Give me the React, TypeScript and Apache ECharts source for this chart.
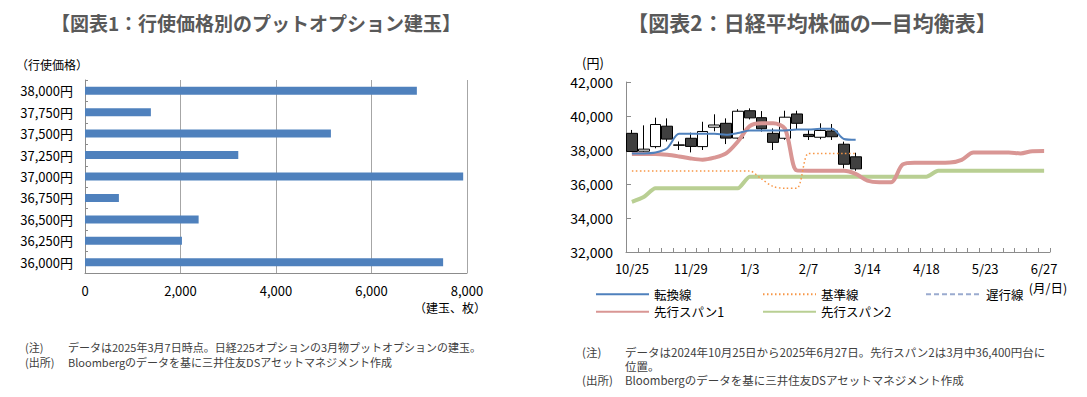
import React, { useEffect, useRef } from "react";
import * as echarts from "echarts";

// ---------- Chart 1 data ----------
const strikes = ["38,000円", "37,750円", "37,500円", "37,250円", "37,000円", "36,750円", "36,500円", "36,250円", "36,000円"];
const openInterest = [6950, 1380, 5150, 3210, 7920, 710, 2380, 2030, 7500];

// ---------- Chart 2 data ----------
const weeks = [
  "10/25", "11/1", "11/8", "11/15", "11/22", "11/29", "12/6", "12/13", "12/20", "12/27",
  "1/3", "1/10", "1/17", "1/24", "1/31", "2/7", "2/14", "2/21", "2/28", "3/7",
  "3/14", "3/21", "3/28", "4/4", "4/11", "4/18", "4/25", "5/2", "5/9", "5/16",
  "5/23", "5/30", "6/6", "6/13", "6/20", "6/27",
];
// [open, close, low, high]
const candles = [
  [38980, 37910, 37880, 39180],
  [37930, 38050, 37900, 39450],
  [38200, 39500, 38100, 39900],
  [39400, 38640, 38500, 39860],
  [38300, 38280, 38000, 38500],
  [38690, 38210, 37860, 39020],
  [38200, 39090, 38000, 39660],
  [39340, 39470, 39100, 40100],
  [39570, 38700, 38350, 39860],
  [38700, 40280, 38650, 40400],
  [40310, 39890, 39800, 40450],
  [39900, 39250, 39080, 40290],
  [38980, 38450, 38000, 39270],
  [38690, 39930, 38600, 40310],
  [40120, 39570, 39180, 40310],
  [38920, 38790, 38590, 39210],
  [38750, 39150, 38630, 39570],
  [39120, 38780, 38590, 39530],
  [38340, 37160, 36920, 38490],
  [37600, 36890, 36780, 37840],
];
const tenkan = [37800, 37800, 37850, 38100, 38950, 38950, 38950, 38950, 38900, 39000,
  39150, 39150, 39150, 39150, 39200, 39200, 39250, 39250, 38650, 38600];
const kijun = [36760, 36760, 36760, 36760, 36760, 36760, 36760, 36760, 36760, 36760,
  36760, 36300, 35850, 35750, 35750, 37800, 37800, 37800, 37800, 37800];
const chikou: number[] = [];
const senkou1 = [37770, 37770, 37770, 37720, 37620, 37500, 37430, 37550, 37800, 38500,
  39400, 39570, 39570, 39250, 36800, 36780, 36780, 36780, 36780, 36600,
  36200, 36100, 36100, 37150, 37250, 37250, 37250, 37260, 37420, 37850,
  37850, 37860, 37860, 37800, 37930, 37940];
const senkou2 = [34950, 35230, 35750, 35750, 35750, 35750, 35750, 35750, 35750, 35750,
  36430, 36430, 36430, 36430, 36430, 36430, 36430, 36430, 36430, 36430,
  36430, 36430, 36430, 36430, 36430, 36430, 36780, 36780, 36780, 36780,
  36780, 36780, 36780, 36780, 36780, 36780];

const FONT = "'Noto Sans CJK JP', 'Noto Sans', sans-serif";
const fmt = (v: number) => v.toLocaleString("en-US");

function txt(text: string, x: number, y: number, opts: any = {}) {
  const fs = opts.fontSize ?? 11;
  return {
    type: "text",
    x,
    y,
    silent: true,
    style: {
      text,
      fontSize: fs,
      lineHeight: fs + 1,
      fontFamily: FONT,
      fontWeight: opts.fontWeight ?? "normal",
      fill: opts.fill ?? "#404040",
      textAlign: opts.align ?? "left",
      textVerticalAlign: "middle",
    },
  };
}

const legendBase = {
  orient: "vertical",
  top: 288,
  padding: 0,
  itemWidth: 53,
  itemHeight: 12,
  itemGap: 5,
  selectedMode: false,
  itemStyle: { opacity: 0 },
  textStyle: { fontSize: 12.5, lineHeight: 12, color: "#000", fontFamily: FONT },
};

export default function App() {
  const ref = useRef<HTMLDivElement>(null);

  useEffect(() => {
    if (!ref.current) return;
    const chart = echarts.init(ref.current, undefined, { renderer: "svg" });
    const axisGray = "#8c8c8c";
    const option: any = {
      animation: false,
      backgroundColor: "#ffffff",
      textStyle: { fontFamily: FONT },
      grid: [
        { left: 85, top: 80, width: 382, height: 193 },
        { left: 626, top: 82, width: 424, height: 170 },
      ],
      xAxis: [
        {
          type: "value",
          gridIndex: 0,
          min: 0,
          max: 8000,
          interval: 2000,
          axisLine: { show: true, lineStyle: { color: axisGray } },
          axisTick: { show: false },
          splitLine: { show: true, lineStyle: { color: "#a6a6a6" } },
          axisLabel: { formatter: (v: number) => fmt(v), fontSize: 13, color: "#000", margin: 11, fontFamily: FONT },
        },
        {
          type: "category",
          gridIndex: 1,
          data: weeks,
          boundaryGap: true,
          axisLine: { show: true, lineStyle: { color: axisGray } },
          axisTick: { show: true, inside: true, length: 4, interval: 0, lineStyle: { color: axisGray } },
          axisLabel: { interval: 4, fontSize: 13, color: "#000", margin: 10, fontFamily: FONT },
          splitLine: { show: false },
        },
      ],
      yAxis: [
        {
          type: "category",
          gridIndex: 0,
          data: strikes,
          inverse: true,
          axisLine: { show: true, lineStyle: { color: axisGray } },
          axisTick: { show: true, inside: true, length: 3, lineStyle: { color: axisGray } },
          axisLabel: { fontSize: 13, color: "#000", margin: 12, fontFamily: FONT },
        },
        {
          type: "value",
          gridIndex: 1,
          min: 32000,
          max: 42000,
          interval: 2000,
          axisLine: { show: true, lineStyle: { color: axisGray } },
          axisTick: { show: true, inside: true, length: 5, lineStyle: { color: axisGray } },
          splitLine: { show: false },
          axisLabel: { formatter: (v: number) => fmt(v), fontSize: 14, color: "#000", margin: 13, fontFamily: FONT },
        },
      ],
      legend: [
        { ...legendBase, data: ["転換線", "先行スパン1"], left: 595 },
        { ...legendBase, data: ["基準線", "先行スパン2"], left: 762 },
        { ...legendBase, data: ["遅行線"], left: 925, textStyle: { ...legendBase.textStyle, padding: [0, 0, 0, 2] } },
      ],
      series: [
        {
          name: "建玉",
          type: "bar",
          xAxisIndex: 0,
          yAxisIndex: 0,
          data: openInterest,
          barWidth: 8,
          itemStyle: { color: "#4f81bd" },
        },
        {
          name: "日経平均",
          type: "candlestick",
          xAxisIndex: 1,
          yAxisIndex: 1,
          data: candles,
          barWidth: "96%",
          itemStyle: {
            color: "#ffffff",
            color0: "#404040",
            borderColor: "#000000",
            borderColor0: "#000000",
            borderWidth: 1,
          },
          z: 2,
        },
        {
          name: "先行スパン2",
          type: "line",
          xAxisIndex: 1,
          yAxisIndex: 1,
          data: senkou2,
          symbol: "none",
          smooth: 0.2,
          lineStyle: { color: "#b9cf93", width: 4 },
          itemStyle: { color: "#b9cf93" },
          z: 3,
        },
        {
          name: "先行スパン1",
          type: "line",
          xAxisIndex: 1,
          yAxisIndex: 1,
          data: senkou1,
          symbol: "none",
          smooth: 0.3,
          lineStyle: { color: "#d99694", width: 4 },
          itemStyle: { color: "#d99694" },
          z: 4,
        },
        {
          name: "基準線",
          type: "line",
          xAxisIndex: 1,
          yAxisIndex: 1,
          data: kijun,
          symbol: "none",
          smooth: 0.3,
          lineStyle: { color: "#f79646", width: 1.5, type: [1.5, 2.5] },
          itemStyle: { color: "#f79646" },
          z: 5,
        },
        {
          name: "遅行線",
          type: "line",
          xAxisIndex: 1,
          yAxisIndex: 1,
          data: chikou,
          symbol: "none",
          lineStyle: { color: "#9aabcf", width: 2, type: [5, 3] },
          itemStyle: { color: "#9aabcf" },
          z: 5,
        },
        {
          name: "転換線",
          type: "line",
          xAxisIndex: 1,
          yAxisIndex: 1,
          data: tenkan,
          symbol: "none",
          smooth: 0.3,
          lineStyle: { color: "#4f81bd", width: 2 },
          itemStyle: { color: "#4f81bd" },
          z: 6,
        },
      ],
      graphic: [
        txt("【図表1：行使価格別のプットオプション建玉】", 256, 22, { fontSize: 19, fontWeight: "bold", fill: "#595959", align: "center" }),
        txt("【図表2：日経平均株価の一目均衡表】", 812, 22, { fontSize: 21, fontWeight: "bold", fill: "#595959", align: "center" }),
        txt("（行使価格）", 16, 64, { fontSize: 12, fill: "#000" }),
        txt("（建玉、枚）", 486, 307, { fontSize: 12, fill: "#000", align: "right" }),
        txt("(円)", 582, 62, { fontSize: 13, fill: "#000" }),
        txt("(月/日)", 1048, 287, { fontSize: 12.5, fill: "#000", align: "center" }),
        txt("(注)", 25, 347),
        txt("データは2025年3月7日時点。日経225オプションの3月物プットオプションの建玉。", 68, 347),
        txt("(出所)", 25, 362),
        txt("Bloombergのデータを基に三井住友DSアセットマネジメント作成", 68, 362),
        txt("(注)", 582, 352, { fontSize: 11.5 }),
        txt("データは2024年10月25日から2025年6月27日。先行スパン2は3月中36,400円台に", 625, 352, { fontSize: 11.5 }),
        txt("位置。", 625, 366, { fontSize: 11.5 }),
        txt("(出所)", 582, 380, { fontSize: 11.5 }),
        txt("Bloombergのデータを基に三井住友DSアセットマネジメント作成", 625, 380, { fontSize: 11.5 }),
      ],
    };
    chart.setOption(option);
    return () => chart.dispose();
  }, []);

  return (
    <div
      ref={ref}
      style={{ position: "fixed", left: 0, top: 0, width: 1087, height: 397, background: "#fff" }}
    />
  );
}
